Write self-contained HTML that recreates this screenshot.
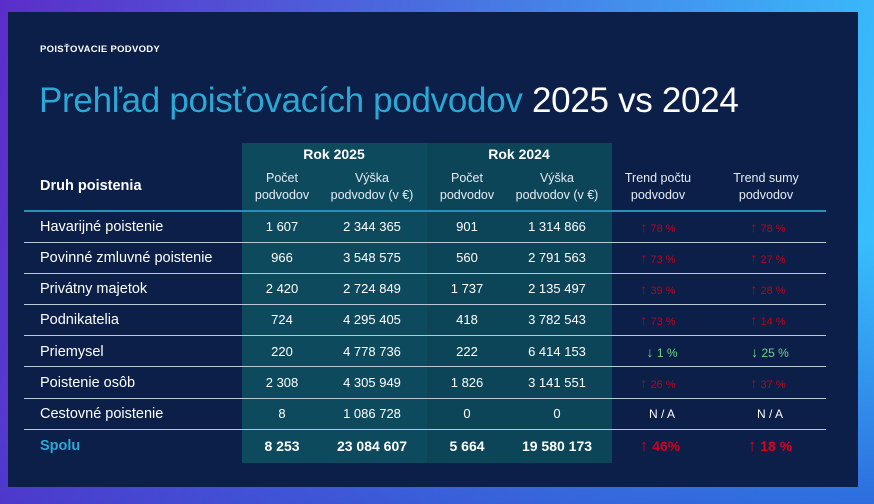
<!DOCTYPE html>
<html><head><meta charset="utf-8"><style>
body{margin:0;width:874px;height:504px;overflow:hidden;background:linear-gradient(170deg,rgba(0,0,0,0) 60%,rgba(40,50,200,.6) 100%),linear-gradient(100deg,#5b2ec9 0%,#4a6ee0 45%,#36c6ff 100%);font-family:"Liberation Sans",sans-serif;position:relative}
.panel{position:absolute;left:8px;top:12px;width:850px;height:475px;background:#0b1f48}
.t{position:absolute;white-space:nowrap;color:#fff}
.hl{position:absolute;top:143px;height:320px;background:#0e4a5e}
.ln{position:absolute;left:24px;width:802px;height:1px;background:#b8c8d4}
.c{position:absolute;text-align:center;transform:translateX(-50%);white-space:nowrap;color:#fff;font-size:13px;line-height:16px}
.h{font-size:12.5px;color:#e4ecf4;line-height:17px}
.r{color:#c0001a;font-size:11px}
.r b,.g b{font-size:14px;font-weight:normal;line-height:16px}
.g{color:#6fd48a;font-size:12px}
.lab{position:absolute;left:40px;color:#fff;font-size:14.5px;white-space:nowrap;line-height:17px}
</style></head><body>
<div class="panel"></div>
<div class="hl" style="left:242px;width:185px"></div>
<div class="hl" style="left:427px;width:185px;background:#0d4558"></div>
<div class="t" style="left:40px;top:44px;font-size:9.5px;font-weight:bold;letter-spacing:.3px">POISŤOVACIE PODVODY</div>
<div class="t" style="left:39px;top:81px;font-size:35px;color:#2aa9d6;letter-spacing:-.3px">Prehľad poisťovacích podvodov <span style="color:#fff">2025 vs 2024</span></div>
<div class="c" style="left:334px;top:146px;font-weight:bold;font-size:14px">Rok 2025</div>
<div class="c" style="left:519px;top:146px;font-weight:bold;font-size:14px">Rok 2024</div>
<div class="lab" style="top:178px;font-weight:bold">Druh poistenia</div>
<div class="c h" style="left:282px;top:170px">Počet<br>podvodov</div>
<div class="c h" style="left:372px;top:170px">Výška<br>podvodov (v €)</div>
<div class="c h" style="left:467px;top:170px">Počet<br>podvodov</div>
<div class="c h" style="left:557px;top:170px">Výška<br>podvodov (v €)</div>
<div class="c h" style="left:658px;top:170px">Trend počtu<br>podvodov</div>
<div class="c h" style="left:766px;top:170px">Trend sumy<br>podvodov</div>
<div class="ln" style="top:210px;height:2px;background:#2a8fb8"></div>
<div class="ln" style="top:242px"></div><div class="ln" style="top:273px"></div><div class="ln" style="top:304px"></div><div class="ln" style="top:335px"></div><div class="ln" style="top:366px"></div><div class="ln" style="top:398px"></div><div class="ln" style="top:429px"></div>

<div class="lab" style="top:219px">Havarijné poistenie</div>
<div class="c" style="left:282px;top:219px">1 607</div><div class="c" style="left:372px;top:219px">2 344 365</div><div class="c" style="left:467px;top:219px">901</div><div class="c" style="left:557px;top:219px">1 314 866</div><div class="c r" style="left:658px;top:219px"><b>↑</b> 78 %</div><div class="c r" style="left:768px;top:219px"><b>↑</b> 78 %</div>

<div class="lab" style="top:250px">Povinné zmluvné poistenie</div>
<div class="c" style="left:282px;top:250px">966</div><div class="c" style="left:372px;top:250px">3 548 575</div><div class="c" style="left:467px;top:250px">560</div><div class="c" style="left:557px;top:250px">2 791 563</div><div class="c r" style="left:658px;top:250px"><b>↑</b> 73 %</div><div class="c r" style="left:768px;top:250px"><b>↑</b> 27 %</div>

<div class="lab" style="top:281px">Privátny majetok</div>
<div class="c" style="left:282px;top:281px">2 420</div><div class="c" style="left:372px;top:281px">2 724 849</div><div class="c" style="left:467px;top:281px">1 737</div><div class="c" style="left:557px;top:281px">2 135 497</div><div class="c r" style="left:658px;top:281px"><b>↑</b> 39 %</div><div class="c r" style="left:768px;top:281px"><b>↑</b> 28 %</div>

<div class="lab" style="top:312px">Podnikatelia</div>
<div class="c" style="left:282px;top:312px">724</div><div class="c" style="left:372px;top:312px">4 295 405</div><div class="c" style="left:467px;top:312px">418</div><div class="c" style="left:557px;top:312px">3 782 543</div><div class="c r" style="left:658px;top:312px"><b>↑</b> 73 %</div><div class="c r" style="left:768px;top:312px"><b>↑</b> 14 %</div>

<div class="lab" style="top:344px">Priemysel</div>
<div class="c" style="left:282px;top:344px">220</div><div class="c" style="left:372px;top:344px">4 778 736</div><div class="c" style="left:467px;top:344px">222</div><div class="c" style="left:557px;top:344px">6 414 153</div><div class="c g" style="left:662px;top:344px"><b>↓</b> 1 %</div><div class="c g" style="left:770px;top:344px"><b>↓</b> 25 %</div>

<div class="lab" style="top:375px">Poistenie osôb</div>
<div class="c" style="left:282px;top:375px">2 308</div><div class="c" style="left:372px;top:375px">4 305 949</div><div class="c" style="left:467px;top:375px">1 826</div><div class="c" style="left:557px;top:375px">3 141 551</div><div class="c r" style="left:658px;top:375px"><b>↑</b> 26 %</div><div class="c r" style="left:768px;top:375px"><b>↑</b> 37 %</div>

<div class="lab" style="top:406px">Cestovné poistenie</div>
<div class="c" style="left:282px;top:406px">8</div><div class="c" style="left:372px;top:406px">1 086 728</div><div class="c" style="left:467px;top:406px">0</div><div class="c" style="left:557px;top:406px">0</div><div class="c" style="left:662px;top:406px;font-size:12px">N / A</div><div class="c" style="left:770px;top:406px;font-size:12px">N / A</div>

<div class="lab" style="top:438px;font-weight:bold;color:#2aa9d6">Spolu</div>
<div class="c" style="left:282px;top:438px;font-weight:bold;font-size:14px">8 253</div><div class="c" style="left:372px;top:438px;font-weight:bold;font-size:14px">23 084 607</div><div class="c" style="left:467px;top:438px;font-weight:bold;font-size:14px">5 664</div><div class="c" style="left:557px;top:438px;font-weight:bold;font-size:14px">19 580 173</div><div class="c" style="left:660px;top:438px;font-weight:bold;font-size:14px;color:#d0001a"><span style="font-size:17px">↑</span> 46%</div><div class="c" style="left:770px;top:438px;font-weight:bold;font-size:14px;color:#e0001a"><span style="font-size:17px">↑</span> 18 %</div>
</body></html>
